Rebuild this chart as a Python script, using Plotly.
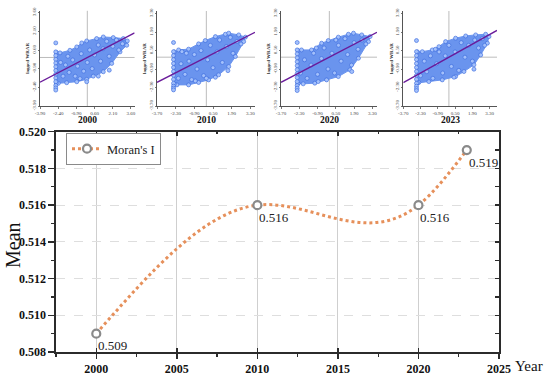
import plotly.graph_objects as go

# ---------------- data ----------------
years = [2000, 2010, 2020, 2023]
morans_i = [0.509, 0.516, 0.516, 0.519]
value_labels = ["0.509", "0.516", "0.516", "0.519"]

panel_years = ["2000", "2010", "2020", "2023"]
panel_ticks = [
    [-3.90, -2.40, -0.90, 0.60, 2.10, 3.60],
    [-3.70, -2.30, -0.90, 0.50, 1.90, 3.30],
    [-3.70, -2.30, -0.90, 0.50, 1.90, 3.30],
    [-3.70, -2.30, -0.90, 0.50, 1.90, 3.30],
]
panel_ytitle = "lagged WRAR"

hull_x_2000 = [-2.55, -2.55, -2.25, -1.43, -0.87, -0.46, -0.05, 0.77, 1.32, 2.14, 2.97, 3.30, 3.25, 2.70, 2.01, 1.32, 0.49, -0.05, -0.87, -1.70, -2.39]
hull_y_2000 = [-2.05, 0.40, 0.37, 0.58, 0.85, 1.17, 1.33, 1.52, 1.65, 1.60, 1.52, 1.33, 0.98, 0.45, -0.48, -1.15, -1.50, -1.76, -1.95, -2.03, -2.08]
hull_x_2010 = [-2.40, -2.40, -2.08, -1.33, -0.58, -0.08, 0.68, 1.43, 1.68, 2.43, 2.93, 2.80, 2.18, 1.68, 0.92, 0.17, -0.58, -1.33, -2.21]
hull_y_2010 = [-2.05, 0.40, 0.55, 0.61, 1.01, 1.26, 1.56, 1.74, 1.82, 1.69, 1.52, 1.18, 0.05, -0.71, -1.34, -1.72, -1.92, -2.10, -2.10]
hull_x_2020 = [-2.40, -2.40, -2.13, -1.36, -0.59, -0.08, 0.69, 1.46, 1.85, 2.48, 3.12, 3.00, 2.23, 1.58, 0.69, -0.21, -1.11, -2.00]
hull_y_2020 = [-2.00, 0.50, 0.55, 0.55, 1.06, 1.26, 1.52, 1.74, 1.82, 1.69, 1.56, 1.18, -0.08, -0.96, -1.47, -1.72, -1.97, -2.02]
hull_x_2023 = [-2.55, -2.55, -2.16, -1.35, -0.81, -0.27, 0.54, 1.36, 2.17, 2.98, 3.25, 3.12, 2.58, 2.03, 1.22, 0.54, -0.54, -1.63, -2.44]
hull_y_2023 = [-1.95, 0.40, 0.42, 0.55, 0.80, 1.18, 1.44, 1.61, 1.69, 1.74, 1.56, 1.06, 0.17, -0.58, -1.09, -1.47, -1.72, -1.85, -1.92]

col_x = [-2.60, -2.46, -2.46, -2.63]
col_y_2000 = [1.17, 0.45, 0.15, -0.15, -0.45, -0.75, -1.05, -1.35, -1.65, -1.95, -2.25, -2.45, -2.62]
col_y_2010 = [1.11, 0.42, 0.12, -0.18, -0.48, -0.78, -1.08, -1.38, -1.68, -1.98, -2.20, -2.35, -2.48]
col_y_2020 = [1.11, 0.55, 0.25, -0.05, -0.35, -0.65, -0.95, -1.25, -1.55, -1.85, -2.15, -2.35, -2.53]
col_y_2023 = [1.26, 0.42, 0.12, -0.18, -0.48, -0.78, -1.08, -1.38, -1.68, -1.98, -2.20, -2.38, -2.53]

pts_x_2000 = [-2.0, -1.8, -1.5, -1.2, -1.0, -0.8, -0.5, -0.3, 0.0, 0.2, 0.4, 0.6, 0.9, 1.1, 1.3, 1.6, 1.8, 2.1, 2.4, 2.6, 2.9, -2.2, -1.6, -0.6, 1.81, 0.91, -0.05]
pts_y_2000 = [-1.5, -0.6, -1.2, -0.2, -1.5, -0.7, 0.3, -1.1, -0.4, 0.6, -0.9, 0.2, 1.0, -0.3, 0.7, 1.3, 0.1, 0.9, 1.4, 0.6, 1.1, -0.4, 0.1, -1.7, -1.02, -1.50, -1.95]
pts_x_2010 = [-2.1, -1.9, -1.6, -1.3, -1.1, -0.9, -0.7, -0.4, -0.2, 0.1, 0.3, 0.5, 0.8, 1.0, 1.2, 1.5, 1.8, 2.0, 2.3, 2.6, -1.5, 0.0, 1.62, 0.68, -0.83, -1.83]
pts_y_2010 = [-1.6, -0.5, -1.3, -0.3, -1.7, 0.2, -0.9, 0.5, -1.4, -0.2, 0.9, -0.8, 0.4, 1.3, -0.4, 0.8, 1.5, 0.3, 1.2, 1.0, 0.3, -1.6, -1.02, -1.52, -1.80, 0.42]
pts_x_2020 = [-2.2, -1.9, -1.7, -1.4, -1.2, -0.9, -0.6, -0.4, -0.1, 0.2, 0.4, 0.7, 0.9, 1.2, 1.4, 1.7, 1.9, 2.2, 2.5, 2.8, -1.0, 0.5, 1.72, -0.85]
pts_y_2020 = [-1.2, -0.2, -1.6, -0.6, 0.3, -1.3, -0.1, 0.7, -0.9, 0.3, -1.2, 0.9, -0.3, 1.4, 0.2, -0.6, 1.1, 0.6, 1.3, 1.0, 0.7, 1.3, -1.09, -1.85]
pts_x_2023 = [-2.3, -2.0, -1.8, -1.5, -1.3, -1.0, -0.8, -0.5, -0.3, 0.0, 0.2, 0.5, 0.8, 1.0, 1.3, 1.6, 1.9, 2.1, 2.4, 2.7, 2.9, -1.1, 2.03, 0.41]
pts_y_2023 = [-1.4, -0.3, -1.1, 0.1, -1.6, -0.5, 0.4, -1.2, 0.1, 0.9, -0.7, 0.4, -1.0, 1.1, 0.0, 0.9, -0.3, 1.3, 0.7, 1.4, 0.9, 0.6, -0.91, -1.52]

hulls_x = [hull_x_2000, hull_x_2010, hull_x_2020, hull_x_2023]
hulls_y = [hull_y_2000, hull_y_2010, hull_y_2020, hull_y_2023]
cols_y = [col_y_2000, col_y_2010, col_y_2020, col_y_2023]
pts_x = [pts_x_2000, pts_x_2010, pts_x_2020, pts_x_2023]
pts_y = [pts_y_2000, pts_y_2010, pts_y_2020, pts_y_2023]

# ---------------- layout helpers ----------------
W, H = 550, 378
def fx(p):
    return p / W
def fy(p):
    return 1 - p / H

SERIF = "Liberation Serif, Times New Roman, serif"
panel_layout = [
    dict(xr=[-3.9, 3.9], yr=[-3.9, 3.75], xd=(40, 134.6), yd=(10.8, 106)),
    dict(xr=[-3.7, 3.65], yr=[-3.7, 3.5], xd=(157, 255), yd=(11, 106)),
    dict(xr=[-3.7, 3.65], yr=[-3.7, 3.5], xd=(281, 377), yd=(11, 106)),
    dict(xr=[-3.7, 3.9], yr=[-3.7, 3.5], xd=(403.3, 497), yd=(11, 106)),
]

fig = go.Figure()
layout = dict(
    width=W, height=H, margin=dict(l=0, r=0, t=0, b=0, pad=0, autoexpand=False),
    paper_bgcolor="white", plot_bgcolor="white",
    showlegend=True, shapes=[], annotations=[],
)

FILL = "#6a94ee"
MK = dict(size=4.0, color="#a3c0fb", line=dict(color="#3566dc", width=0.6))

for i in range(4):
    n = "" if i == 0 else str(i + 1)
    xa, ya = "x" + n, "y" + n
    pl = panel_layout[i]
    fig.add_trace(go.Scatter(
        x=hulls_x[i] + [hulls_x[i][0]], y=hulls_y[i] + [hulls_y[i][0]],
        mode="lines+markers", fill="toself", fillcolor=FILL,
        line=dict(color=FILL, width=1), marker=MK,
        xaxis=xa, yaxis=ya, showlegend=False, hoverinfo="skip"))
    fig.add_trace(go.Scatter(
        x=[col_x[i]] * len(cols_y[i]), y=cols_y[i], mode="markers", marker=MK,
        xaxis=xa, yaxis=ya, showlegend=False, hoverinfo="skip"))
    fig.add_trace(go.Scatter(
        x=pts_x[i], y=pts_y[i], mode="markers", marker=MK,
        xaxis=xa, yaxis=ya, showlegend=False, hoverinfo="skip"))
    fig.add_trace(go.Scatter(
        x=pl["xr"], y=[morans_i[i] * v for v in pl["xr"]], mode="lines",
        line=dict(color="#6a1b9a", width=1.4),
        xaxis=xa, yaxis=ya, showlegend=False, hoverinfo="skip"))
    tt = ["%.2f" % v for v in panel_ticks[i]]
    axcommon = dict(showgrid=False, zeroline=False, showline=True, linecolor="#555",
                    linewidth=1, ticks="outside", ticklen=1.5, tickwidth=0.8, tickcolor="#555",
                    tickvals=panel_ticks[i], ticktext=tt, automargin=False,
                    tickfont=dict(family=SERIF, size=5, color="#444"))
    layout["xaxis" + n] = dict(axcommon, domain=[fx(pl["xd"][0]), fx(pl["xd"][1])],
                               range=pl["xr"], anchor=ya)
    layout["yaxis" + n] = dict(axcommon, domain=[fy(pl["yd"][1]), fy(pl["yd"][0])],
                               range=pl["yr"], anchor=xa, tickangle=-90,
                               title=dict(text="<b>" + panel_ytitle + "</b>", standoff=1,
                                          font=dict(family=SERIF, size=5, color="#333")))
    layout["shapes"] += [
        dict(type="line", xref=xa, yref=ya + " domain", x0=0, x1=0, y0=0, y1=1,
             line=dict(color="#bcbcbc", width=1), layer="below"),
        dict(type="line", xref=xa + " domain", yref=ya, x0=0, x1=1, y0=0, y1=0,
             line=dict(color="#bcbcbc", width=1), layer="below"),
    ]
    layout["annotations"].append(dict(
        xref=xa + " domain", yref="paper", x=0.5, y=fy(120), text="<b>" + panel_years[i] + "</b>",
        showarrow=False, font=dict(family=SERIF, size=9.5, color="#111"),
        xanchor="center", yanchor="middle"))

# ---------------- main chart ----------------
ORANGE = "#e6905b"
# natural cubic spline through the yearly values, drawn as a Bezier path on the data axes
nk = len(years)
hk = [years[k + 1] - years[k] for k in range(nk - 1)]
M = [0.0] * nk
if nk > 2:
    a = [0.0] * nk; b = [0.0] * nk; c = [0.0] * nk; d = [0.0] * nk
    for k in range(1, nk - 1):
        a[k] = hk[k - 1]; b[k] = 2 * (hk[k - 1] + hk[k]); c[k] = hk[k]
        d[k] = 6 * ((morans_i[k + 1] - morans_i[k]) / hk[k] - (morans_i[k] - morans_i[k - 1]) / hk[k - 1])
    for k in range(2, nk - 1):
        w = a[k] / b[k - 1]
        b[k] -= w * c[k - 1]; d[k] -= w * d[k - 1]
    M[nk - 2] = d[nk - 2] / b[nk - 2]
    for k in range(nk - 3, 0, -1):
        M[k] = (d[k] - c[k] * M[k + 1]) / b[k]
path = "M %r,%r" % (years[0], morans_i[0])
for k in range(nk - 1):
    h_ = hk[k]
    dy = (morans_i[k + 1] - morans_i[k]) / h_
    s0 = dy - h_ * (2 * M[k] + M[k + 1]) / 6
    s1 = dy + h_ * (M[k] + 2 * M[k + 1]) / 6
    path += " C %r,%r %r,%r %r,%r" % (
        years[k] + h_ / 3, morans_i[k] + s0 * h_ / 3,
        years[k + 1] - h_ / 3, morans_i[k + 1] - s1 * h_ / 3,
        years[k + 1], morans_i[k + 1])
layout["shapes"].append(dict(type="path", xref="x5", yref="y5", path=path,
                             line=dict(color=ORANGE, width=3, dash="dot"), layer="between"))

MMK = dict(symbol="circle", size=8, color="white", line=dict(color="#8a8a8a", width=2.2))
fig.add_trace(go.Scatter(
    x=years, y=morans_i, mode="markers", marker=MMK, showlegend=False,
    xaxis="x5", yaxis="y5", hoverinfo="skip"))
fig.add_trace(go.Scatter(
    x=[None], y=[None], name="Moran's I", mode="lines+markers",
    line=dict(color=ORANGE, width=3, dash="dot"), marker=MMK,
    xaxis="x5", yaxis="y5", hoverinfo="skip"))
fig.add_trace(go.Scatter(x=[None], y=[None], xaxis="x6", yaxis="y6", showlegend=False, hoverinfo="skip"))
fig.add_trace(go.Scatter(x=[None], y=[None], xaxis="x7", yaxis="y5", showlegend=False, hoverinfo="skip"))

XR = [1997.5, 2025]
YR = [0.508, 0.520]
xdom = [fx(56), fx(499)]
ydom = [fy(352), fy(131.7)]
layout["xaxis5"] = dict(
    domain=xdom, range=XR, anchor="y5", tick0=2000, dtick=5, automargin=False,
    showline=True, linecolor="#2b2b2b", linewidth=1.6,
    ticks="outside", ticklen=5, tickwidth=1.5, tickcolor="#2b2b2b",
    showgrid=True, gridcolor="#cfcfcf", gridwidth=1, zeroline=False,
    minor=dict(dtick=2.5, ticklen=3, tickwidth=1.2, ticks="outside", tickcolor="#2b2b2b", showgrid=False),
    tickfont=dict(family=SERIF, size=12, color="#111", weight="bold"))
layout["yaxis5"] = dict(
    domain=ydom, range=YR, anchor="x5", dtick=0.002, tick0=0.508, tickformat=".3f", automargin=False,
    showline=True, linecolor="#2b2b2b", linewidth=1.6,
    ticks="outside", ticklen=6, tickwidth=1.5, tickcolor="#2b2b2b",
    showgrid=True, gridcolor="#dedede", gridwidth=1, griddash="dash", zeroline=False,
    minor=dict(dtick=0.001, ticklen=3.5, tickwidth=1.2, ticks="outside", tickcolor="#2b2b2b", showgrid=False),
    tickfont=dict(family=SERIF, size=12, color="#111", weight="bold"))
layout["xaxis6"] = dict(
    overlaying="x5", side="top", anchor="y5", range=XR, tick0=2000, dtick=5, automargin=False,
    showline=True, linecolor="#2b2b2b", linewidth=1.6, showticklabels=False,
    ticks="inside", ticklen=4, tickwidth=1.5, tickcolor="#2b2b2b", showgrid=False, zeroline=False,
    minor=dict(dtick=2.5, ticklen=2.5, tickwidth=1.2, ticks="inside", tickcolor="#2b2b2b", showgrid=False))
layout["yaxis6"] = dict(
    overlaying="y5", side="right", anchor="x5", range=YR, tick0=0.508, dtick=0.001, automargin=False,
    showline=True, linecolor="#2b2b2b", linewidth=1.6, showticklabels=False,
    ticks="inside", ticklen=4.5, tickwidth=1.3, tickcolor="#2b2b2b", showgrid=False, zeroline=False)
layout["xaxis7"] = dict(
    overlaying="x5", side="bottom", anchor="y5", range=XR, tick0=2000, dtick=5, automargin=False,
    showline=False, showticklabels=False, ticks="inside", ticklen=4.5, tickwidth=1.5,
    tickcolor="#2b2b2b", showgrid=False, zeroline=False)

for x, y, t in zip(years, morans_i, value_labels):
    layout["annotations"].append(dict(
        xref="x5", yref="y5", x=x, y=y, text=t, showarrow=False,
        xanchor="left", yanchor="middle", xshift=0, yshift=-12,
        font=dict(family=SERIF, size=13, color="#222")))

layout["annotations"] += [
    dict(xref="paper", yref="paper", x=fx(13), y=fy(245), text="Mean", textangle=-90,
         showarrow=False, xanchor="center", yanchor="middle",
         font=dict(family=SERIF, size=20, color="#111")),
    dict(xref="paper", yref="paper", x=fx(529), y=fy(366), text="Year",
         showarrow=False, xanchor="center", yanchor="middle",
         font=dict(family=SERIF, size=15, color="#111")),
]

layout["legend"] = dict(
    x=fx(66), y=fy(133), xanchor="left", yanchor="top",
    bgcolor="white", bordercolor="#8a8a8a", borderwidth=1,
    font=dict(family=SERIF, size=12.5, color="#222"), itemwidth=30,
    tracegroupgap=0)

fig.update_layout(**layout)
# remove the default 8px page margin so the 550x378 figure fills the window
fig.write_html("out.html", config={"displayModeBar": False, "staticPlot": True},
               post_script="document.body.style.margin='0px';")
